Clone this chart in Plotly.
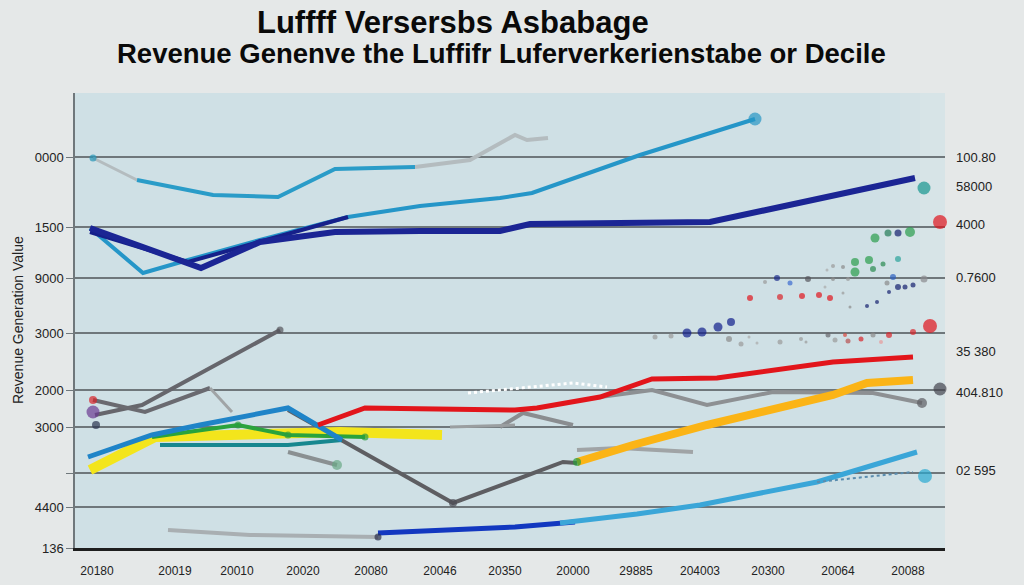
import plotly.graph_objects as go

# ---------------- data (chart units: x = period position, y = value scale) -------------
x_tick_vals = [97, 175, 237, 303, 371, 440, 505, 573, 636, 700, 768, 838, 908]
x_tick_text = ["20180", "20019", "20010", "20020", "20080", "20046", "20350",
               "20000", "29885", "204003", "20300", "20064", "20088"]
y_tick_vals = [391, 321, 270, 215, 158, 121, 75, 41, 0]
y_tick_text = ["0000", "1500", "9000", "3000", "2000", "3000", "", "4400", "136"]
right_label_vals = [391, 362, 324, 271, 197, 156, 78]
right_label_text = ["100.80", "58000", "4000", "0.7600", "35 380", "404.810", "02 595"]

teal_top_x = [137, 213, 278, 335, 415]
teal_top_y = [368, 353, 351, 379, 381]
grey_top_a_x = [93, 137]
grey_top_a_y = [390, 368]
grey_top_b_x = [415, 470, 515, 527, 548]
grey_top_b_y = [381, 388, 413, 408, 410]

teal_mid_x = [90, 143, 188, 260, 348, 420, 500, 532, 640, 755]
teal_mid_y = [320, 275, 288, 308, 331, 342, 350, 355, 393, 429]

navy_main_x = [90, 201, 260, 335, 420, 500, 530, 710, 915]
navy_main_y = [320, 280, 306, 316, 317, 317, 324, 326, 370]
navy_b_x = [90, 188, 348]
navy_b_y = [316, 286, 331]

red_x = [318, 365, 515, 537, 600, 652, 717, 833, 913]
red_y = [123, 140, 138, 140, 151, 169, 170, 186, 191]

yellow_x = [90, 155, 230, 288, 340, 442]
yellow_y = [78, 111, 113, 115, 116, 113]
orange_x = [577, 633, 707, 770, 833, 867, 913]
orange_y = [86, 103, 123, 138, 153, 165, 168]

blue_mid_x = [88, 152, 200, 288, 342]
blue_mid_y = [91, 113, 123, 140, 108]
green_x = [152, 238, 288, 365]
green_y = [111, 123, 113, 111]
teal_low_x = [160, 288, 342]
teal_low_y = [103, 103, 108]
grey_small_x = [288, 337]
grey_small_y = [96, 83]

grey_dark1_x = [95, 142, 280]
grey_dark1_y = [133, 143, 218]
grey2_x = [93, 145, 210]
grey2_y = [148, 136, 160]
grey2b_x = [210, 232]
grey2b_y = [160, 136]
grey_v_x = [288, 453, 515, 563, 577]
grey_v_y = [138, 45, 68, 86, 85]
grey_flat_x = [577, 620, 693]
grey_flat_y = [98, 100, 96]
grey_right_x = [500, 523, 573]
grey_right_y = [121, 135, 123]
grey3_x = [600, 652, 707, 773, 873, 922]
grey3_y = [151, 158, 143, 156, 155, 145]
grey_arrow_x = [450, 515]
grey_arrow_y = [121, 123]

lower_grey_x = [168, 250, 378]
lower_grey_y = [18, 13, 11]
dark_blue_x = [378, 450, 515, 575]
dark_blue_y = [15, 18, 21, 26]
light_blue_x = [560, 637, 700, 817, 917]
light_blue_y = [25, 34, 43, 66, 96]

white_dash_x = [468, 500, 573, 607]
white_dash_y = [155, 158, 165, 161]
dot_dash_x = [817, 913]
dot_dash_y = [66, 76]

# standalone markers
dots_x = [755, 924, 940, 962, 930, 940, 925, 960, 93, 96, 93, 337, 453, 922, 378, 93, 280,
          875, 888, 898, 910, 855, 869, 883, 898, 873, 855, 833, 843, 827,
          765, 777, 790, 808, 833, 848, 893, 887, 898, 905, 913, 924, 843, 825, 889,
          750, 780, 802, 819, 830, 850, 867, 877,
          655, 671, 687, 702, 718, 731, 729, 741, 749, 757, 780, 801, 806, 828, 835,
          845, 848, 861, 873, 881, 889, 913, 577, 365, 238, 288]
dots_y = [429, 360, 326, 271, 222, 159, 72, 78, 136, 123, 148, 83, 45, 145, 11, 390, 218,
          310, 315, 315, 316, 286, 288, 284, 289, 279, 276, 282, 281, 278,
          266, 270, 265, 269, 269, 269, 271, 265, 261, 261, 263, 269, 255, 261, 256,
          250, 251, 252, 253, 250, 241, 242, 246,
          211, 212, 215, 216, 221, 226, 209, 204, 211, 205, 206, 209, 206, 213, 208,
          213, 207, 209, 213, 206, 213, 216, 86, 111, 123, 113]
dots_color = ["#2796c4", "#16958f", "#e0141c", "#2a9d3c", "#e0141c", "#45444e", "#2aaad2",
              "#1a1aa8", "#6b3a93", "#2b3550", "#d9242a", "#6aa886", "#4d4d55", "#5d5d63",
              "#2b2f4a", "#2596b8", "#55555c",
              "#2a9d4c", "#237a55", "#14206e", "#2a9d4c", "#2a9d4c", "#2a9d4c", "#2a8a50",
              "#2aa39a", "#2a8a50", "#2a9d4c", "#9a9a9a", "#8a8a8a", "#aaaaaa",
              "#9a9a9a", "#1a2a8a", "#3a6ad0", "#55555c", "#8a8a8a", "#9a9a9a", "#2a60c0",
              "#8a8a8a", "#14206e", "#14206e", "#14206e", "#8a8a8e", "#9a9a9a", "#aaaaaa",
              "#14206e",
              "#e0141c", "#d9242a", "#e0141c", "#e0141c", "#e0141c", "#8a8a8a", "#14206e",
              "#14206e",
              "#9a9a9a", "#9a9a9a", "#0f1e8c", "#0f1e8c", "#0f1e8c", "#0f1e8c", "#8a8a8a",
              "#9a9a9a", "#aaaaaa", "#aaaaaa", "#9a9a9a", "#9a9a9a", "#9a9a9a", "#66666c",
              "#9a9a9a", "#d9443a", "#b85050", "#d9242a", "#8a8a8a", "#e89a9a", "#d9242a",
              "#d9242a", "#2a9d3c", "#2a9d3c", "#2a9d3c", "#2a9d3c"]
dots_size = [13, 13, 14, 13, 14, 13, 14, 12, 13, 8, 8, 10, 8, 10, 7, 7, 7,
             9, 7, 7, 10, 8, 8, 5, 6, 6, 9, 4, 4, 3,
             4, 6, 5, 6, 4, 4, 6, 5, 6, 5, 5, 7, 3, 3, 4,
             6, 6, 6, 6, 6, 3, 4, 4,
             5, 5, 9, 9, 9, 8, 6, 5, 3, 3, 5, 4, 3, 5, 5,
             4, 5, 5, 5, 4, 6, 6, 8, 7, 7, 7]

# right-edge fade of the plot background (start of each band and its opacity)
fade_x0 = [880, 900, 920]
fade_opacity = [0.12, 0.15, 0.18]

fig = go.Figure()


def add_line(xs, ys, color, width, dash="solid", opacity=1.0):
    fig.add_trace(go.Scatter(x=xs, y=ys, mode="lines", opacity=opacity,
                             line=dict(color=color, width=width, dash=dash),
                             hoverinfo="skip", showlegend=False, cliponaxis=False))


add_line(grey_top_a_x, grey_top_a_y, "#b4bcbf", 3)
add_line(grey_top_b_x, grey_top_b_y, "#b4bcbf", 4)
add_line(teal_top_x, teal_top_y, "#2a9cc8", 4)
add_line(teal_mid_x, teal_mid_y, "#2596c8", 4)
add_line(navy_b_x, navy_b_y, "#16208a", 4)
add_line(navy_main_x, navy_main_y, "#1b2594", 6)

add_line(lower_grey_x, lower_grey_y, "#a9afb2", 4)
add_line(dark_blue_x, dark_blue_y, "#1238c0", 5)
add_line(light_blue_x, light_blue_y, "#3aa6d8", 5)
add_line(dot_dash_x, dot_dash_y, "#5a8cae", 2, dash="dot")

add_line(grey_dark1_x, grey_dark1_y, "#66666c", 4)
add_line(grey2_x, grey2_y, "#6a6a70", 4)
add_line(grey2b_x, grey2b_y, "#a0a4a6", 3)
add_line(grey_v_x, grey_v_y, "#5e5e62", 4)
add_line(grey_flat_x, grey_flat_y, "#a0a4a6", 4)
add_line(grey_right_x, grey_right_y, "#8a8d90", 4)
add_line(grey3_x, grey3_y, "#8d9093", 4)
add_line(grey_arrow_x, grey_arrow_y, "#9a9ea0", 3)
add_line(white_dash_x, white_dash_y, "#ffffff", 3, dash="dot")

add_line(teal_low_x, teal_low_y, "#17878f", 4)
add_line(grey_small_x, grey_small_y, "#8a9092", 4)
add_line(yellow_x, yellow_y, "#f3e51c", 10)
add_line(green_x, green_y, "#2aa33c", 4)
add_line(blue_mid_x, blue_mid_y, "#1f84c8", 5)
add_line(orange_x, orange_y, "#fbb416", 8)
add_line(red_x, red_y, "#e2151b", 5)

fig.add_trace(go.Scatter(x=dots_x, y=dots_y, mode="markers",
                         marker=dict(color=dots_color, size=dots_size, line=dict(width=0)),
                         hoverinfo="skip", showlegend=False, cliponaxis=False))

shapes = []
for x0, op in zip(fade_x0, fade_opacity):
    shapes.append(dict(type="rect", xref="x", yref="paper", x0=x0, x1=945, y0=0, y1=1,
                       fillcolor="#e8ecec", opacity=op, line=dict(width=0), layer="below"))

annots = [
    dict(text="Luffff Versersbs Asbabage", xref="paper", yref="paper",
         x=0.434, y=1.156, xanchor="center", yanchor="middle", showarrow=False,
         font=dict(family="Liberation Sans, Arial", size=31, color="#0a0a0a", weight=700)),
    dict(text="Revenue Genenve the Luffifr Luferverkerienstabe or Decile",
         xref="paper", yref="paper", x=0.49, y=1.086, xanchor="center",
         yanchor="middle", showarrow=False,
         font=dict(family="Liberation Sans, Arial", size=27.5, color="#0a0a0a", weight=700)),
    dict(text="Revenue Generation Value", xref="paper", yref="paper",
         x=-0.066, y=0.5, textangle=-90, xanchor="center", yanchor="middle",
         showarrow=False,
         font=dict(family="Liberation Sans, Arial", size=14, color="#222222")),
]
for v, t in zip(right_label_vals, right_label_text):
    annots.append(dict(text=t, xref="paper", yref="y", x=1.01, y=v, xanchor="left",
                       yanchor="middle", showarrow=False,
                       font=dict(family="Liberation Sans, Arial", size=13, color="#222222")))

fig.update_layout(
    width=1024, height=585,
    margin=dict(l=75, r=79, t=93, b=37, autoexpand=False),
    paper_bgcolor="#e5e8e8",
    plot_bgcolor="#cfe0e5",
    annotations=annots,
    shapes=shapes,
    xaxis=dict(range=[75, 945], tickvals=x_tick_vals, ticktext=x_tick_text,
               showgrid=False, zeroline=False, showline=True, linecolor="#1e1e1e",
               linewidth=3, ticks="", ticklabelstandoff=10, automargin=False,
               tickfont=dict(family="Liberation Sans, Arial", size=12, color="#222222")),
    yaxis=dict(range=[0, 455], tickvals=y_tick_vals, ticktext=y_tick_text,
               showgrid=True, gridcolor="#6f777b", gridwidth=1.5, zeroline=False,
               showline=True, linecolor="#6f777b", linewidth=1.5, automargin=False,
               ticks="outside", ticklen=7, tickcolor="#6f777b",
               tickfont=dict(family="Liberation Sans, Arial", size=13, color="#222222")),
)

fig.write_html("out.html")
